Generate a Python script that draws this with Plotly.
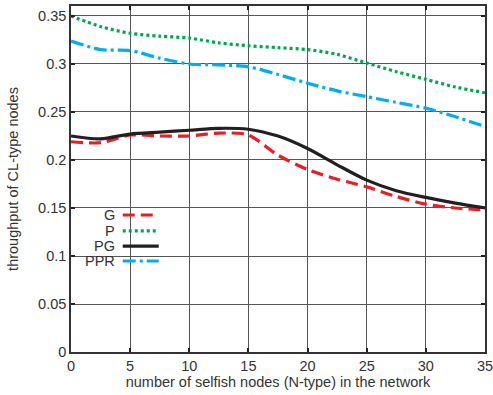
import plotly.graph_objects as go

x_vals = [0, 2.5, 5, 7.5, 10, 12.5, 15, 17.5, 20, 22.5, 25, 27.5, 30, 32.5, 35]

g_vals = [0.219, 0.218, 0.226, 0.225, 0.225, 0.228, 0.226, 0.205, 0.190, 0.180, 0.172, 0.162, 0.154, 0.150, 0.148]
p_vals = [0.350, 0.339, 0.332, 0.329, 0.327, 0.322, 0.319, 0.317, 0.315, 0.310, 0.301, 0.292, 0.284, 0.276, 0.270]
pg_vals = [0.225, 0.222, 0.227, 0.229, 0.231, 0.233, 0.232, 0.225, 0.212, 0.195, 0.179, 0.168, 0.161, 0.155, 0.150]
ppr_vals = [0.324, 0.315, 0.314, 0.306, 0.300, 0.299, 0.297, 0.289, 0.280, 0.272, 0.266, 0.260, 0.254, 0.245, 0.235]

series_names = ["G", "P", "PG", "PPR"]
series_vals = [g_vals, p_vals, pg_vals, ppr_vals]
colors = ["#ec1c24", "#00a651", "#231f20", "#00aeef"]
dashes = ["12px,6px", "3px,3px", "solid", "13px,4px,3px,4px"]

x_ticks = [0, 5, 10, 15, 20, 25, 30, 35]
y_ticks = [0, 0.05, 0.1, 0.15, 0.2, 0.25, 0.3, 0.35]
y_tick_labels = ["0", "0.05", "0.1", "0.15", "0.2", "0.25", "0.3", "0.35"]

fig = go.Figure()
for name, vals, c, d in zip(series_names, series_vals, colors, dashes):
    fig.add_trace(go.Scatter(x=x_vals, y=vals, mode="lines", name=name,
                             line=dict(color=c, width=3.2, dash=d, shape="spline", smoothing=0.8),
                             showlegend=False))

font = dict(family="Liberation Sans, Arial, sans-serif", size=14.5, color="#333333")

# custom legend (text left of line sample), in paper coordinates
fig.add_shape(type="rect", xref="paper", yref="paper", x0=0.01, x1=0.225, y0=0.24, y1=0.42,
              fillcolor="white", line=dict(width=0), layer="below")
legend_y = [0.396, 0.350, 0.306, 0.263]
for name, c, d, ly in zip(series_names, colors, dashes, legend_y):
    fig.add_annotation(xref="paper", yref="paper", x=0.11, y=ly, text=name, showarrow=False,
                       xanchor="right", yanchor="middle", font=font)
    fig.add_shape(type="line", xref="paper", yref="paper", x0=0.125, x1=0.212, y0=ly, y1=ly,
                  line=dict(color=c, width=3.2, dash=d))

axis_common = dict(showline=True, linecolor="#333333", linewidth=1.5, mirror="ticks",
                   ticks="inside", ticklen=4, tickwidth=2, tickcolor="#222222",
                   showgrid=True, gridcolor="#555555", gridwidth=1, zeroline=False,
                   tickfont=font, automargin=False, ticklabeloverflow="allow")

fig.update_layout(
    width=493, height=395,
    margin=dict(l=71, r=8, t=6, b=43),
    plot_bgcolor="white", paper_bgcolor="white",
    xaxis=dict(range=[0, 35], tickvals=x_ticks,
               title=dict(text="number of selfish nodes (N-type) in the network", font=font, standoff=2),
               **axis_common),
    yaxis=dict(range=[0, 0.3604], tickvals=y_ticks, ticktext=y_tick_labels,
               title=dict(text="throughput of CL-type nodes", font=font, standoff=16),
               **axis_common),
)

fig.write_html("out.html", config={"displayModeBar": False},
               post_script="document.body.style.margin='0';document.body.style.overflow='hidden';")
